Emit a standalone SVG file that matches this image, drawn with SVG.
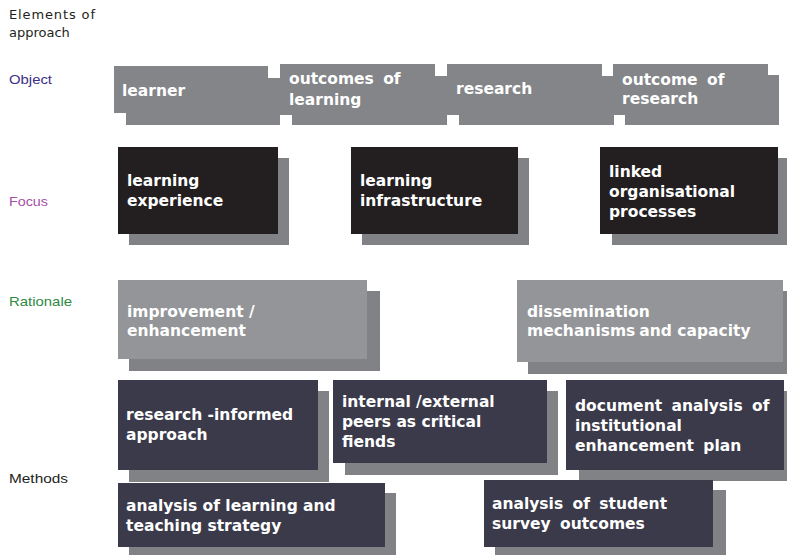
<svg xmlns="http://www.w3.org/2000/svg" width="787" height="555" viewBox="0 0 787 555">
<style>
.bt{font-family:"DejaVu Sans","Verdana",sans-serif;font-weight:bold;font-size:15.5px;fill:#ffffff}
.lab{font-family:"Liberation Sans",Arial,sans-serif;font-size:13.5px}
.obj{fill:#848589}
.foc{fill:#231f20}
.rat{fill:#939598}
.met{fill:#3b3a4a}
.sh{fill:#808285}
.ws{word-spacing:4px}
</style>
<rect width="787" height="555" fill="#ffffff"/>
<g id="labels">
<text x="9" y="19" font-family="DejaVu Sans,Verdana,sans-serif" font-size="13" fill="#231f20" textLength="86" lengthAdjust="spacing">Elements of</text>
<text x="9" y="37" font-family="DejaVu Sans,Verdana,sans-serif" font-size="13" fill="#231f20">approach</text>
<text class="lab" x="9" y="84" fill="#3a2f86" textLength="43" lengthAdjust="spacingAndGlyphs">Object</text>
<text class="lab" x="9" y="206" fill="#a64fa6" textLength="39" lengthAdjust="spacingAndGlyphs">Focus</text>
<text class="lab" x="9" y="306" fill="#2f8a44" textLength="63" lengthAdjust="spacingAndGlyphs">Rationale</text>
<text class="lab" x="9" y="483" fill="#231f20" textLength="59" lengthAdjust="spacingAndGlyphs">Methods</text>
</g>
<g id="connectors"></g>
<g id="n-learner">
<rect class="obj" x="126" y="78" width="154" height="47"/>
<rect class="obj" x="114" y="66" width="154" height="47"/>
<text class="bt" x="122" y="96">learner</text>
</g>
<g id="n-outcomes-learning">
<rect class="obj" x="292" y="76" width="155" height="49"/>
<rect class="obj" x="280" y="64" width="155" height="51"/>
<text class="bt ws" x="289" y="84">outcomes of</text>
<text class="bt" x="289" y="105">learning</text>
</g>
<g id="n-research">
<rect class="obj" x="459" y="76" width="155" height="49"/>
<rect class="obj" x="447" y="64" width="155" height="51"/>
<text class="bt" x="456" y="94">research</text>
</g>
<g id="n-outcome-research">
<rect class="obj" x="625" y="75" width="154" height="50"/>
<rect class="obj" x="613" y="64" width="155" height="51"/>
<text class="bt ws" x="622" y="85">outcome of</text>
<text class="bt" x="622" y="104">research</text>
</g>
<g id="n-learning-experience">
<rect class="sh" x="129" y="158" width="160" height="87"/>
<rect class="foc" x="118" y="147" width="160" height="87"/>
<text class="bt" x="127" y="186">learning</text>
<text class="bt" x="127" y="206">experience</text>
</g>
<g id="n-learning-infrastructure">
<rect class="sh" x="362" y="158" width="167" height="87"/>
<rect class="foc" x="351" y="147" width="167" height="87"/>
<text class="bt" x="360" y="186">learning</text>
<text class="bt" x="360" y="206">infrastructure</text>
</g>
<g id="n-linked">
<rect class="sh" x="612" y="158" width="178" height="87"/>
<rect class="foc" x="600" y="147" width="178" height="87"/>
<text class="bt" x="609" y="177">linked</text>
<text class="bt" x="609" y="197">organisational</text>
<text class="bt" x="609" y="217">processes</text>
</g>
<g id="n-improvement">
<rect class="sh" x="129" y="291" width="251" height="80"/>
<rect class="rat" x="118" y="280" width="249" height="79"/>
<text class="bt" x="127" y="317">improvement /</text>
<text class="bt" x="127" y="336">enhancement</text>
</g>
<g id="n-dissemination">
<rect class="sh" x="528" y="291" width="262" height="83"/>
<rect class="rat" x="517" y="280" width="266" height="82"/>
<text class="bt" x="527" y="317">dissemination</text>
<text class="bt" x="527" y="336"><tspan>mechanisms</tspan><tspan dx="4">and capacity</tspan></text>
</g>
<g id="n-research-informed">
<rect class="sh" x="129" y="391" width="200" height="91"/>
<rect class="met" x="118" y="380" width="200" height="90"/>
<text class="bt" x="126" y="420">research -informed</text>
<text class="bt" x="126" y="440">approach</text>
</g>
<g id="n-peers">
<rect class="sh" x="345" y="391" width="213" height="84"/>
<rect class="met" x="333" y="380" width="214" height="83"/>
<text class="bt" x="342" y="407">internal /external</text>
<text class="bt" x="342" y="427">peers as critical</text>
<text class="bt" x="342" y="447">fiends</text>
</g>
<g id="n-document">
<rect class="sh" x="579" y="391" width="211" height="90"/>
<rect class="met" x="566" y="380" width="218" height="90"/>
<text class="bt ws" x="575" y="411">document analysis of</text>
<text class="bt" x="575" y="431">institutional</text>
<text class="bt ws" x="575" y="451">enhancement plan</text>
</g>
<g id="n-strategy">
<rect class="sh" x="129" y="493" width="267" height="62"/>
<rect class="met" x="118" y="483" width="267" height="64"/>
<text class="bt" x="126" y="511">analysis of learning and</text>
<text class="bt" x="126" y="531">teaching strategy</text>
</g>
<g id="n-survey">
<rect class="sh" x="495" y="490" width="231" height="65"/>
<rect class="met" x="484" y="480" width="229" height="67"/>
<text class="bt ws" x="492" y="509">analysis of student</text>
<text class="bt ws" x="492" y="529">survey outcomes</text>
</g>
</svg>
